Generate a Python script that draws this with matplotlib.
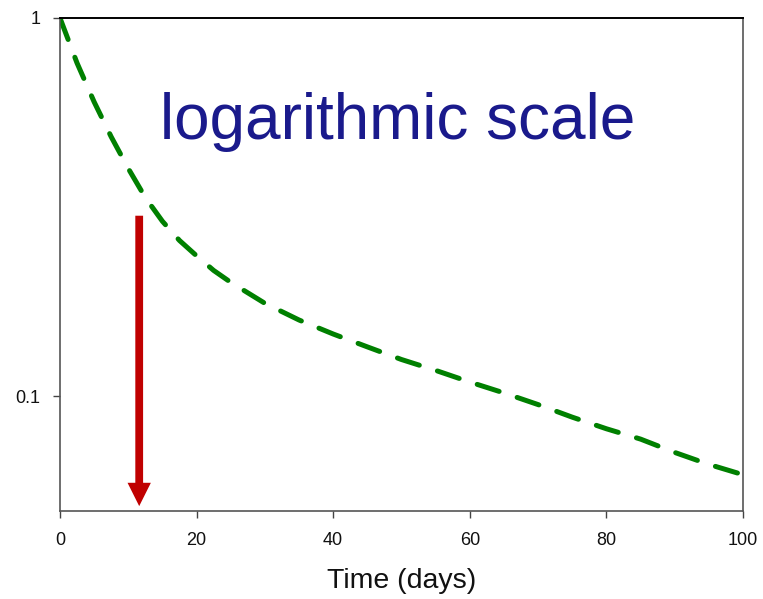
import matplotlib
matplotlib.use("Agg")
import matplotlib.pyplot as plt

plt.rcParams['font.family'] = ['Liberation Sans', 'DejaVu Sans']

# curve (time in days, fraction remaining)
t = [0, 2.5, 5, 7.5, 10, 12.5, 15, 17.5, 20, 22.5, 25, 30, 35, 40, 45, 50,
     55, 60, 65, 70, 75, 80, 85, 90, 95, 100]
frac = [1.0, 0.76, 0.60, 0.485, 0.40, 0.335, 0.29, 0.258, 0.235, 0.215, 0.20,
        0.176, 0.159, 0.146, 0.135, 0.125, 0.117, 0.109, 0.102, 0.095, 0.088,
        0.082, 0.077, 0.071, 0.066, 0.062]

arrow_t = 11.6
arrow_from = 0.30
arrow_to = 0.0512

xticks = [0, 20, 40, 60, 80, 100]
yticks = [0.1, 1]
ytick_labels = ["0.1", "1"]

fig = plt.figure(figsize=(7.63, 5.99), dpi=100)
ax = fig.add_axes([0.0786, 0.1469, 0.8952, 0.8231])

ax.plot(t, frac, color='#008000', lw=3.6, dashes=(4.6, 3.8),
        dash_capstyle='round', solid_capstyle='round')

ax.annotate('', xy=(arrow_t, arrow_to), xytext=(arrow_t, arrow_from),
            arrowprops=dict(arrowstyle='simple,head_length=1.2,head_width=1.2,tail_width=0.4',
                            color='#C00000', mutation_scale=14,
                            shrinkA=0, shrinkB=0, lw=0))

ax.text(14.6, 0.48, 'logarithmic scale', color='#1A1A8C', fontsize=46,
        ha='left', va='baseline')

ax.set_yscale('log')
ax.set_xlim(0, 100)
ax.set_ylim(0.0497, 1)
ax.set_xticks(xticks)
ax.set_yticks(yticks)
ax.set_yticklabels(ytick_labels)
ax.yaxis.set_minor_locator(matplotlib.ticker.NullLocator())
ax.tick_params(axis='both', direction='out', length=5, width=1,
               color='#444444', labelsize=13, labelcolor='#111111')
ax.tick_params(axis='x', pad=10)
ax.tick_params(axis='y', pad=9)

ax.set_xlabel('Time (days)', fontsize=20.5, labelpad=14, color='#111111')

for s in ['left', 'bottom', 'right']:
    ax.spines[s].set_color('#555555')
    ax.spines[s].set_linewidth(1.2)
ax.spines['top'].set_color('#000000')
ax.spines['top'].set_linewidth(1.4)

fig.savefig('out.png', dpi=100)
